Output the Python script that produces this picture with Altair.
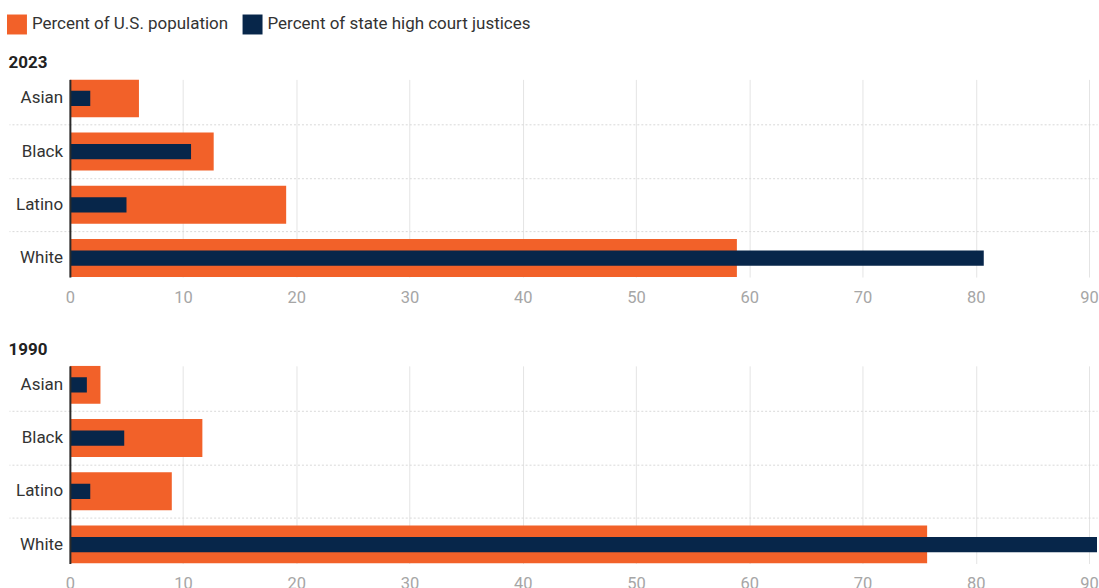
import altair as alt
import pandas as pd

# ---- data ----
races = ["Asian", "Black", "Latino", "White"]
series_names = ["Percent of U.S. population", "Percent of state high court justices"]
series_colors = ["#F26129", "#07264A"]

years = ["2023", "1990"]
pop_2023 = [6.1, 12.7, 19.1, 58.9]
just_2023 = [1.8, 10.7, 5.0, 80.7]
pop_1990 = [2.7, 11.7, 9.0, 75.7]
just_1990 = [1.5, 4.8, 1.8, 93.0]

x_ticks = [0, 10, 20, 30, 40, 50, 60, 70, 80, 90]

rows = []
for year, pop, just in [("2023", pop_2023, just_2023), ("1990", pop_1990, just_1990)]:
    for r, p, j in zip(races, pop, just):
        rows.append({"year": year, "race": r, "series": series_names[0], "value": p})
        rows.append({"year": year, "race": r, "series": series_names[1], "value": j})
df = pd.DataFrame(rows)

color = alt.Color(
    "series:N",
    scale=alt.Scale(domain=series_names, range=series_colors),
    legend=alt.Legend(
        title=None, orient="none", legendX=-63, legendY=-65, direction="horizontal",
        symbolType="square", symbolSize=400, symbolStrokeWidth=0, symbolOpacity=1,
        labelFontSize=17, labelColor="#333333", labelOffset=5, columnPadding=14,
        labelLimit=0, padding=0,
    ),
)

hide_last = {"condition": {"test": "datum.value === 'White'", "value": 0}, "value": 1}


def panel(year):
    base = alt.Chart(df).transform_filter(alt.datum.year == year)
    x = alt.X(
        "value:Q",
        scale=alt.Scale(domain=[0, 90.7], nice=False, zero=True),
        axis=alt.Axis(
            values=x_ticks, title=None, grid=True, gridColor="#e4e4e4", gridWidth=1,
            domain=False, ticks=False, labelColor="#a6a6a6", labelFontSize=16.5,
            labelPadding=12.5, labelFlush=False,
        ),
    )
    y = alt.Y(
        "race:N", sort=races,
        scale=alt.Scale(paddingInner=0.287, paddingOuter=0),
        axis=alt.Axis(
            title=None, domain=True, domainColor="#2b2b2b", domainWidth=2,
            grid=True, gridDash=[2, 2], gridColor="#d9d9d9", gridOpacity=hide_last,
            ticks=True, tickSize=61, tickDash=[2, 2], tickColor="#d9d9d9",
            tickOpacity=hide_last, bandPosition=1.2014, zindex=1,
            labelPadding=-53.7, labelFontSize=17, labelColor="#333333",
        ),
    )
    pop = base.transform_filter(alt.datum.series == series_names[0]).mark_bar(clip=True).encode(
        x=x, y=y, color=color
    )
    just = base.transform_filter(alt.datum.series == series_names[1]).mark_bar(
        clip=True, height=alt.RelativeBandSize(0.4)
    ).encode(x=x, y=y, color=color)
    return alt.layer(pop, just).properties(
        width=1029, height=198,
        title=alt.TitleParams(
            year, anchor="start", frame="bounds", fontSize=17, fontWeight="bold",
            color="#222222", baseline="alphabetic", offset=-6,
        ),
    )


chart = alt.vconcat(panel(years[0]), panel(years[1]), spacing=35).properties(
    padding={"left": 7, "top": 14, "right": 0, "bottom": 0}
).configure(font="Roboto").configure_view(stroke=None)

chart.save("out.html", embed_options={"renderer": "svg", "actions": False})
